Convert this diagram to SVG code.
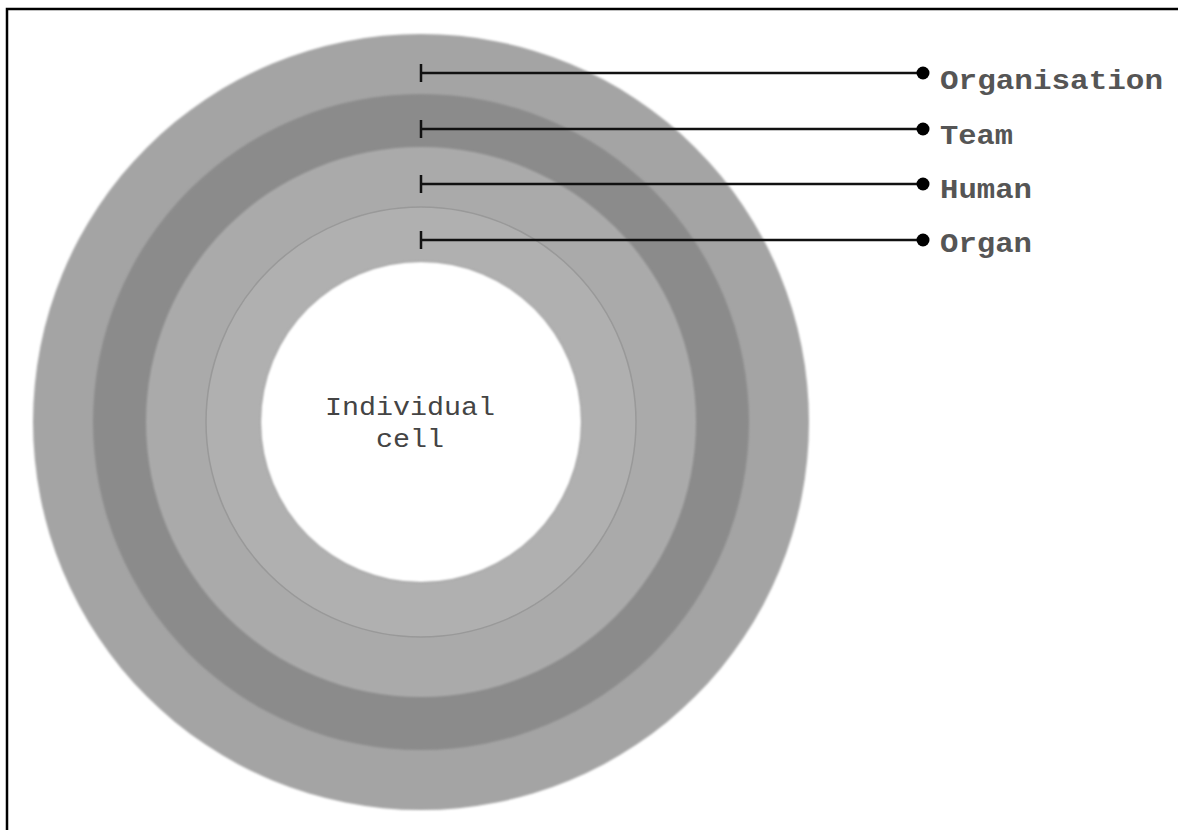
<svg xmlns="http://www.w3.org/2000/svg" width="1178" height="830" viewBox="0 0 1178 830">
<defs>
<style>
.lbl{font-family:"Liberation Mono","Courier New",monospace;font-weight:bold;font-size:27px;fill:#555555}
.ctr{font-family:"Liberation Mono","Courier New",monospace;font-size:26px;fill:#444444}
.lead{stroke:#111111;stroke-width:2.5;fill:none}
.dot{fill:#000000}
</style>
<filter id="soft" x="-5%" y="-5%" width="110%" height="110%"><feGaussianBlur stdDeviation="1.2"/></filter>
</defs>
<rect x="0" y="0" width="1178" height="830" fill="#ffffff"/>
<path d="M7 830 V9 H1178" fill="none" stroke="#000000" stroke-width="2.5"/>
<g id="organisation-ring"><circle cx="421" cy="422" r="388" fill="#a4a4a4" filter="url(#soft)"/></g>
<g id="team-ring"><circle cx="421" cy="422" r="328" fill="#8b8b8b" filter="url(#soft)"/></g>
<g id="human-ring"><circle cx="421" cy="422" r="275" fill="#aaaaaa" filter="url(#soft)"/></g>
<g id="organ-ring"><circle cx="421" cy="422" r="215" fill="#b0b0b0" stroke="#999999" stroke-width="1.5"/></g>
<g id="cell"><circle cx="421" cy="422" r="161" fill="#9f9f9f" filter="url(#soft)"/><circle cx="421" cy="422" r="160" fill="#ffffff" filter="url(#soft)"/>
<text class="ctr" x="410" y="415" text-anchor="middle" textLength="170" lengthAdjust="spacingAndGlyphs">Individual</text>
<text class="ctr" x="410" y="447" text-anchor="middle" textLength="68" lengthAdjust="spacingAndGlyphs">cell</text></g>
<g id="connectors">
<path class="lead" d="M421 64 V82 M421 73 H923"/>
<path class="lead" d="M421 120 V138 M421 129 H923"/>
<path class="lead" d="M421 175 V193 M421 184 H923"/>
<path class="lead" d="M421 231 V249 M421 240 H923"/>
<circle class="dot" cx="923" cy="73" r="6.5"/>
<circle class="dot" cx="923" cy="129" r="6.5"/>
<circle class="dot" cx="923" cy="184" r="6.5"/>
<circle class="dot" cx="923" cy="240" r="6.5"/>
</g>
<g id="label-organisation"><text class="lbl" x="940" y="89" textLength="223" lengthAdjust="spacingAndGlyphs">Organisation</text></g>
<g id="label-team"><text class="lbl" x="940" y="144" textLength="73" lengthAdjust="spacingAndGlyphs">Team</text></g>
<g id="label-human"><text class="lbl" x="940" y="198" textLength="92" lengthAdjust="spacingAndGlyphs">Human</text></g>
<g id="label-organ"><text class="lbl" x="940" y="252" textLength="92" lengthAdjust="spacingAndGlyphs">Organ</text></g>
</svg>
